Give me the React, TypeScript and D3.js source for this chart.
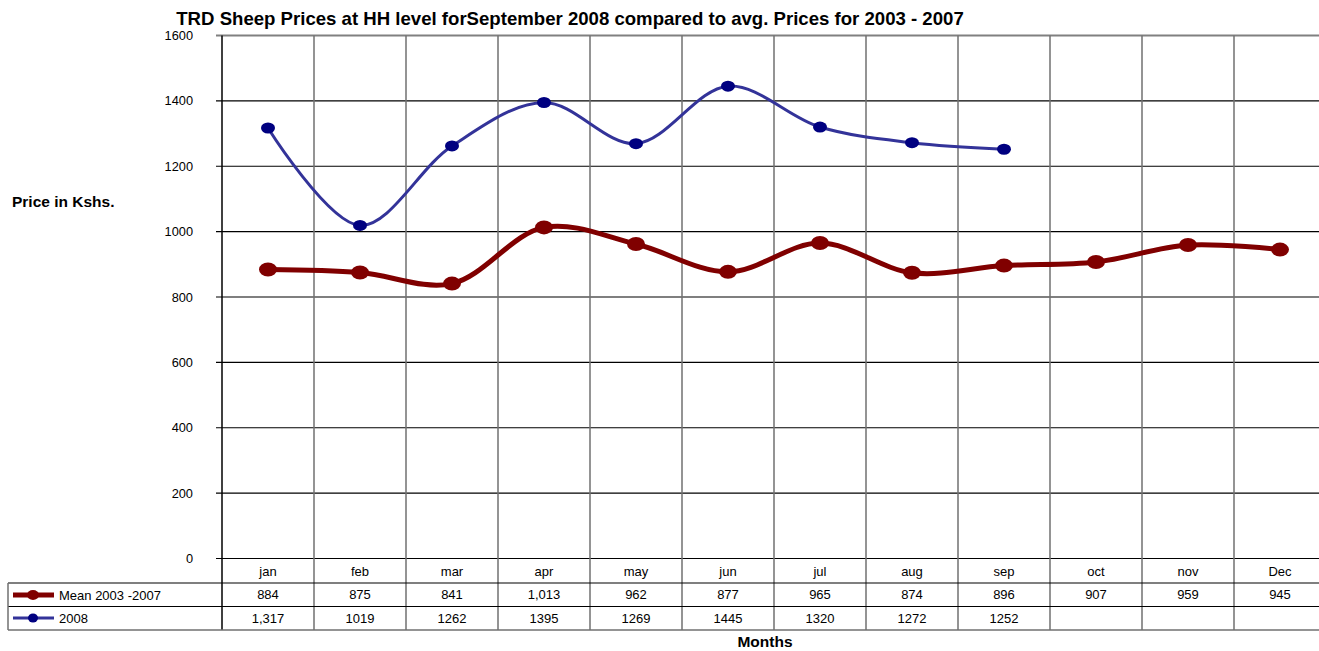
import React from "react";
import * as d3 from "d3";

const width = 1319,
  height = 651;

const months = ["jan", "feb", "mar", "apr", "may", "jun", "jul", "aug", "sep", "oct", "nov", "Dec"];
const meanValues = [884, 875, 841, 1013, 962, 877, 965, 874, 896, 907, 959, 945];
const meanLabels = ["884", "875", "841", "1,013", "962", "877", "965", "874", "896", "907", "959", "945"];
const values2008: (number | null)[] = [1317, 1019, 1262, 1395, 1269, 1445, 1320, 1272, 1252, null, null, null];
const labels2008 = ["1,317", "1019", "1262", "1395", "1269", "1445", "1320", "1272", "1252", "", "", ""];
const yTicks = [0, 200, 400, 600, 800, 1000, 1200, 1400, 1600];

const plotLeft = 222;
const bandW = 92;
const plotTop = 35.5;
const plotBottom = 558.5;
const rowH = [558.5, 583, 606.5, 630];

const font = "Liberation Sans, Arial, sans-serif";

const x = d3
  .scaleBand<string>()
  .domain(months)
  .range([plotLeft, plotLeft + bandW * months.length]);
const cx = (m: string) => (x(m) as number) + x.bandwidth() / 2;
const y = d3.scaleLinear().domain([0, 1600]).range([plotBottom, plotTop]);

const line = d3
  .line<[string, number | null]>()
  .defined((d) => d[1] != null)
  .x((d) => cx(d[0]))
  .y((d) => y(d[1] as number))
  .curve(d3.curveCatmullRom.alpha(0.5));

export default function App() {
  const meanPts = months.map((m, i) => [m, meanValues[i]] as [string, number | null]);
  const pts2008 = months.map((m, i) => [m, values2008[i]] as [string, number | null]);
  const right = width;

  return (
    <svg
      width={width}
      height={height}
      style={{ position: "absolute", left: 0, top: 0, background: "#fff" }}
      fontFamily={font}
    >
      <text x={570} y={25} textAnchor="middle" fontSize={18.6} fontWeight="bold">
        TRD Sheep Prices at HH level forSeptember 2008 compared to avg. Prices for 2003 - 2007
      </text>

      {/* horizontal grid */}
      {yTicks.map((t) => (
        <g key={t}>
          <line
            x1={216}
            x2={right}
            y1={y(t)}
            y2={y(t)}
            stroke={t === 1600 ? "#808080" : "#000"}
            strokeWidth={t === 1600 ? 2 : 1.2}
          />
          <text x={193} y={y(t) + 4.5} textAnchor="end" fontSize={12.8}>
            {t}
          </text>
        </g>
      ))}

      {/* vertical grid through the table */}
      {months.map((m) => (
        <line
          key={m}
          x1={(x(m) as number) + bandW}
          x2={(x(m) as number) + bandW}
          y1={plotTop}
          y2={rowH[3]}
          stroke="#707070"
          strokeWidth={1.5}
        />
      ))}
      <line x1={plotLeft} x2={plotLeft} y1={plotTop} y2={rowH[3]} stroke="#000" strokeWidth={1.5} />

      {/* table */}
      <line x1={8} x2={right} y1={rowH[1]} y2={rowH[1]} stroke="#000" strokeWidth={1.2} />
      <line x1={8} x2={right} y1={rowH[2]} y2={rowH[2]} stroke="#000" strokeWidth={1.2} />
      <line x1={8} x2={right} y1={rowH[3]} y2={rowH[3]} stroke="#707070" strokeWidth={1.5} />
      <line x1={8} x2={8} y1={rowH[1]} y2={rowH[3]} stroke="#707070" strokeWidth={1.5} />
      {months.map((m, i) => (
        <g key={m} fontSize={13} textAnchor="middle">
          <text x={cx(m)} y={575.5}>{m}</text>
          <text x={cx(m)} y={599}>{meanLabels[i]}</text>
          <text x={cx(m)} y={622.5}>{labels2008[i]}</text>
        </g>
      ))}

      {/* legend keys */}
      <line x1={13} x2={54} y1={595} y2={595} stroke="#800000" strokeWidth={5} />
      <ellipse cx={33} cy={595} rx={6} ry={5} fill="#800000" />
      <text x={59} y={600} fontSize={13}>Mean 2003 -2007</text>
      <line x1={13} x2={54} y1={618} y2={618} stroke="#333399" strokeWidth={3} />
      <ellipse cx={33} cy={618} rx={5} ry={4.5} fill="#000080" />
      <text x={59} y={622.5} fontSize={13}>2008</text>

      {/* series */}
      <path d={line(meanPts) || ""} fill="none" stroke="#800000" strokeWidth={5} />
      {meanPts.map(([m, v]) => (
        <ellipse key={m} cx={cx(m)} cy={y(v as number)} rx={9} ry={7} fill="#800000" />
      ))}
      <path d={line(pts2008) || ""} fill="none" stroke="#333399" strokeWidth={3} />
      {pts2008
        .filter((d) => d[1] != null)
        .map(([m, v]) => (
          <ellipse key={m} cx={cx(m)} cy={y(v as number)} rx={7} ry={5.5} fill="#000080" />
        ))}

      <text x={12} y={207} fontSize={15.5} fontWeight="bold">
        Price in Kshs.
      </text>
      <text x={765} y={647} textAnchor="middle" fontSize={15.5} fontWeight="bold">
        Months
      </text>
    </svg>
  );
}
